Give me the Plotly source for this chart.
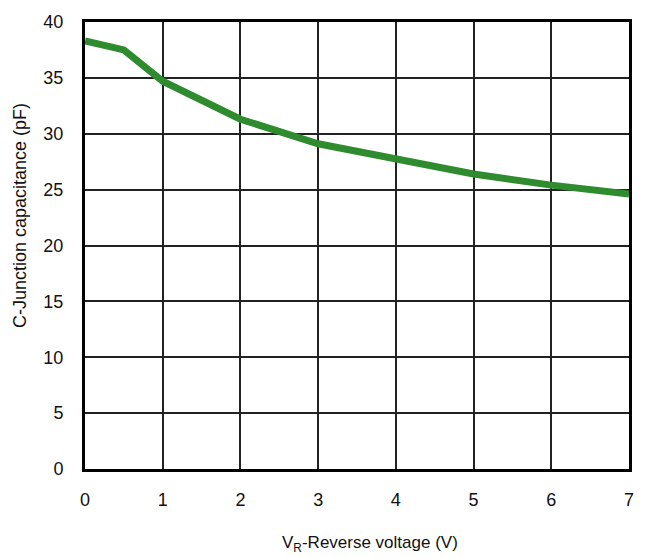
import plotly.graph_objects as go

voltage = [0, 0.5, 1, 2, 3, 4, 5, 6, 7]
capacitance = [38.3, 37.5, 34.7, 31.3, 29.1, 27.7, 26.4, 25.4, 24.6]
x_ticks = [0, 1, 2, 3, 4, 5, 6, 7]
y_ticks = [0, 5, 10, 15, 20, 25, 30, 35, 40]

FAM = "Liberation Sans, Arial, sans-serif"

fig = go.Figure()
fig.add_trace(go.Scatter(
    x=voltage, y=capacitance, mode="lines",
    line=dict(color="#2e8b2e", width=7),
    showlegend=False,
))

fig.update_layout(
    width=646, height=558,
    margin=dict(l=85, r=17, t=13, b=89),
    paper_bgcolor="white", plot_bgcolor="white",
    font=dict(family=FAM, size=18, color="#111"),
    xaxis=dict(
        range=[0, 7], tickvals=x_ticks, ticktext=[str(v) for v in x_ticks],
        showgrid=True, gridcolor="#222", gridwidth=1.5,
        showline=True, linecolor="black", linewidth=3, mirror=True,
        zeroline=False, ticks="", ticklabelstandoff=12,
        tickfont=dict(family=FAM, size=18),
    ),
    yaxis=dict(
        range=[0, 40], tickvals=y_ticks, ticktext=[str(v) for v in y_ticks],
        showgrid=True, gridcolor="#222", gridwidth=1.5,
        showline=True, linecolor="black", linewidth=3, mirror=True,
        zeroline=False, ticks="", ticklabelstandoff=15,
        tickfont=dict(family=FAM, size=18),
    ),
    annotations=[
        dict(text="V<sub>R</sub>-Reverse voltage (V)", xref="paper", yref="paper",
             x=0.523, y=0, yshift=-75, xanchor="center", yanchor="middle",
             showarrow=False, font=dict(family=FAM, size=17, color="#111")),
        dict(text="C-Junction capacitance (pF)", xref="paper", yref="paper",
             x=0, y=0.566, xshift=-65, xanchor="center", yanchor="middle",
             textangle=-90, showarrow=False,
             font=dict(family=FAM, size=18, color="#111")),
    ],
)

fig.write_html("out.html", config={"displayModeBar": False},
               post_script="document.body.style.margin='0';")
